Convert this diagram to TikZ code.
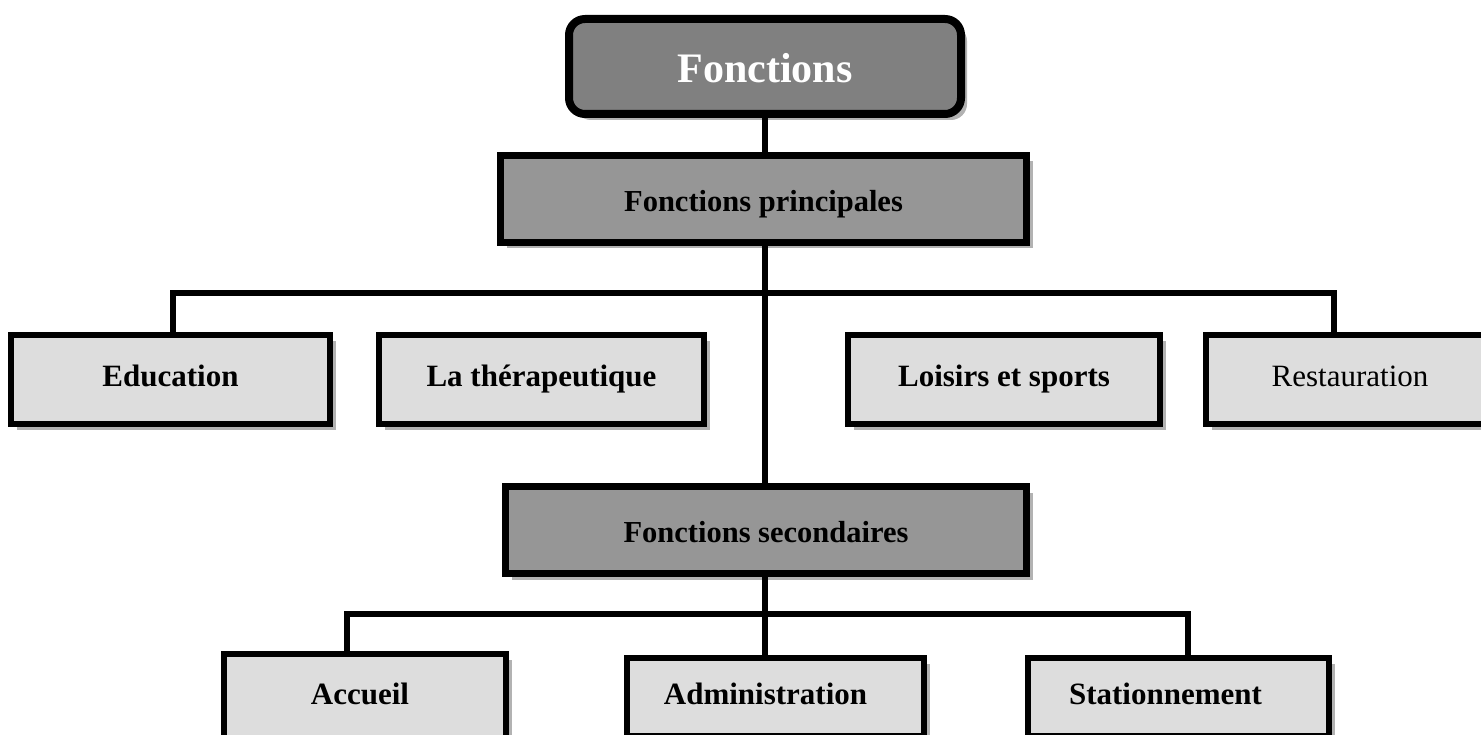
\documentclass[tikz,border=0pt]{standalone}
\usepackage{fontspec}
\setmainfont{Liberation Serif}
\usetikzlibrary{shadows}
\definecolor{titlefill}{HTML}{808080}
\definecolor{midfill}{HTML}{969696}
\definecolor{leaffill}{HTML}{DDDDDD}
\definecolor{shadowgray}{HTML}{B2B2B2}
\tikzset{
  boxshadow/.style={drop shadow={shadow xshift=6pt, shadow yshift=-6pt, fill=shadowgray, opacity=1}},
  titlebox/.style={draw=black, line width=8pt, fill=titlefill, rounded corners=16pt,
    boxshadow, inner sep=0pt, text=white, text height=33pt, text depth=0pt,
    font=\fontsize{42}{48}\selectfont\bfseries},
  levelbox/.style={draw=black, line width=7pt, fill=midfill, boxshadow, inner sep=0pt,
    text height=25pt, text depth=0pt,
    minimum height=87pt, font=\fontsize{30.5}{36}\selectfont\bfseries},
  leafbox/.style={draw=black, line width=6pt, fill=leaffill, boxshadow, inner sep=0pt,
    text height=21pt, text depth=7pt,
    font=\fontsize{31}{36}\selectfont\bfseries},
  link/.style={draw=black, line width=5.5pt}
}
\begin{document}
\begin{tikzpicture}[x=1pt, y=-1pt]
\useasboundingbox (0,0) rectangle (1481,735);

% top of the tree
\node[titlebox, minimum width=392pt, minimum height=95pt] (fct) at (765,66.5) {Fonctions};
\node[levelbox, minimum width=526pt] (princ) at (763.5,199) {Fonctions principales};
\node[levelbox, minimum width=521pt] (second) at (766,530) {Fonctions secondaires};

% main functions
\node[leafbox, minimum width=319pt, minimum height=89pt] (edu)  at (170.5,379.5) {Education};
\node[leafbox, minimum width=325pt, minimum height=89pt] (ther) at (541.5,379.5) {La thérapeutique};
\node[leafbox, minimum width=312pt, minimum height=89pt] (lois) at (1004,379.5) {Loisirs et sports};
\node[leafbox, minimum width=288pt, minimum height=89pt, font=\fontsize{31}{36}\selectfont] (rest) at (1350,379.5) {Restauration};

% secondary functions
\node[leafbox, minimum width=282pt, minimum height=86pt] (acc)  at (365,697) {Accueil\hspace*{10pt}};
\node[leafbox, minimum width=297pt, minimum height=78pt] (adm)  at (775.5,697) {Administration\hspace*{20pt}};
\node[leafbox, minimum width=301pt, minimum height=78pt] (stat) at (1178.5,697) {Stationnement\hspace*{26pt}};

% bus levels
\coordinate (busA) at (765,293);
\coordinate (busB) at (765,614);

% trunk
\draw[link] (fct.south -| 765,0) -- (princ.north -| 765,0);
\draw[link] (princ.south -| 765,0) -- (second.north -| 765,0);
\draw[link] (second.south -| 765,0) -- (adm.north -| 765,0);

% first branch row
\draw[link] (edu.north -| 173,0) |- (busA) -| (rest.north -| 1334,0);
\draw[link] (ther.north -| 528,0) -- (ther.north -| 528,0 |- busA);
\draw[link] (lois.north -| 1007,0) -- (lois.north -| 1007,0 |- busA);

% second branch row
\draw[link] (acc.north -| 347,0) |- (busB) -| (stat.north -| 1188,0);
\end{tikzpicture}
\end{document}
